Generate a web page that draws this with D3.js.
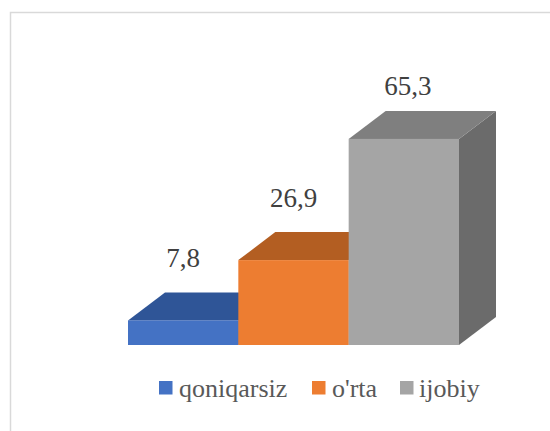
<!DOCTYPE html>
<html>
<head>
<meta charset="utf-8">
<script src="https://cdn.jsdelivr.net/npm/d3@7"></script>
<style>
  html, body { margin: 0; padding: 0; background: #fff; }
  svg { display: block; }
</style>
</head>
<body>
<svg id="chart" width="550" height="431"></svg>
<script>
// chart data
const categories = ["qoniqarsiz", "o'rta", "ijobiy"];
const values = [7.8, 26.9, 65.3];
const labels = ["7,8", "26,9", "65,3"];

const frontColors = ["#4472C4", "#ED7D31", "#A5A5A5"];
const topColors = ["#2F5597", "#B35E22", "#7F7F7F"];
const sideColors = ["#264478", "#9E480E", "#6B6B6B"];

const FONT = "Liberation Serif";

const svg = d3.select("#chart");
const W = 550, H = 431;

// chart border
svg.append("rect")
    .attr("x", 10.5).attr("y", 12.5)
    .attr("width", W).attr("height", H)
    .attr("fill", "none")
    .attr("stroke", "#d9d9d9")
    .attr("stroke-width", 1.5);

const baseY = 345;
const depthX = 37, depthY = 28;

const x = d3.scaleBand()
    .domain(categories)
    .range([128, 459])
    .paddingInner(0)
    .paddingOuter(0);

const y = d3.scaleLinear()
    .domain([0, 80])
    .range([baseY, baseY - 252.5]);

const bars = svg.append("g");

categories.forEach((c, i) => {
    const x0 = x(c), x1 = x(c) + x.bandwidth();
    const yTop = y(values[i]);
    const g = bars.append("g");

    // right side face
    g.append("path")
        .attr("d", `M${x1},${baseY} L${x1 + depthX},${baseY - depthY} L${x1 + depthX},${yTop - depthY} L${x1},${yTop} Z`)
        .attr("fill", sideColors[i]);

    // top face
    g.append("path")
        .attr("d", `M${x0},${yTop} L${x0 + depthX},${yTop - depthY} L${x1 + depthX},${yTop - depthY} L${x1},${yTop} Z`)
        .attr("fill", topColors[i]);

    // front face
    g.append("rect")
        .attr("x", x0).attr("y", yTop)
        .attr("width", x.bandwidth())
        .attr("height", baseY - yTop)
        .attr("fill", frontColors[i]);
});

// value labels
svg.append("g").selectAll("text")
    .data(categories)
    .join("text")
    .attr("x", (c, i) => x(c) + x.bandwidth() / 2 + (i === 2 ? 4 : 0))
    .attr("y", (c, i) => Math.max(y(values[i]) - depthY - 25, 95))
    .attr("text-anchor", "middle")
    .attr("font-family", FONT)
    .attr("font-size", 27)
    .attr("fill", "#404040")
    .text((c, i) => labels[i]);

// legend
const legendItems = [
    { sx: 159, tx: 179 },
    { sx: 312, tx: 332 },
    { sx: 400, tx: 419 }
];
const legend = svg.append("g");
categories.forEach((c, i) => {
    legend.append("rect")
        .attr("x", legendItems[i].sx).attr("y", 381)
        .attr("width", 13.5).attr("height", 13.5)
        .attr("fill", frontColors[i]);
    legend.append("text")
        .attr("x", legendItems[i].tx).attr("y", 397)
        .attr("font-family", FONT)
        .attr("font-size", 26)
        .attr("fill", "#595959")
        .text(c);
});
</script>
</body>
</html>
